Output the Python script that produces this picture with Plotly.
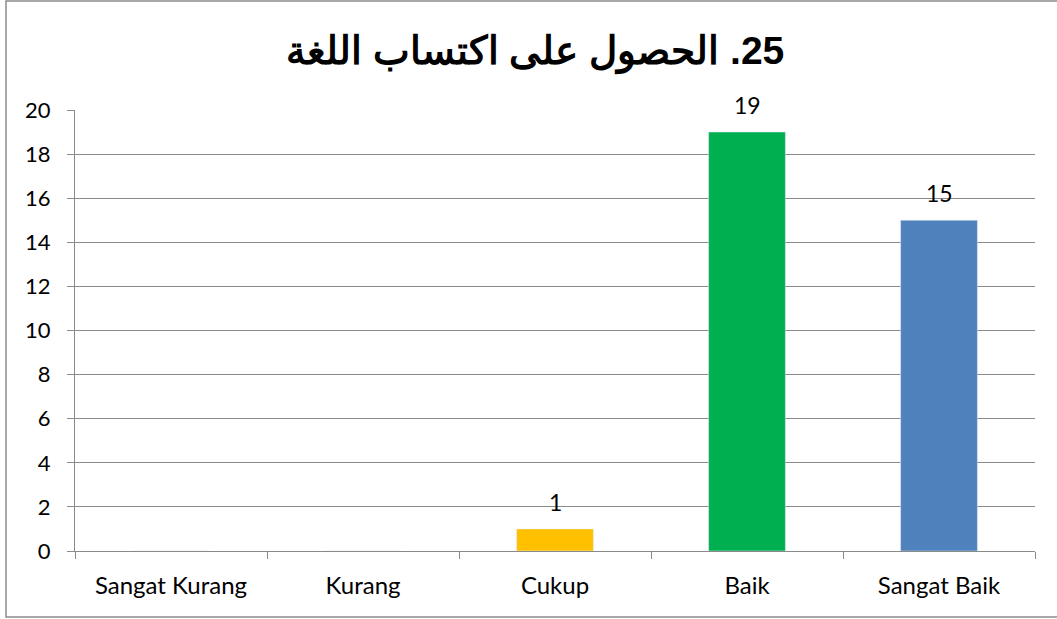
import plotly.graph_objects as go

categories = ["Sangat Kurang", "Kurang", "Cukup", "Baik", "Sangat Baik"]
values = [0, 0, 1, 19, 15]
bar_colors = ["#4F81BD", "#4F81BD", "#FFC000", "#00B050", "#4F81BD"]
labels = ["", "", "1", "19", "15"]
title_text = "25. الحصول على اكتساب اللغة"

W, H = 1057, 619
ml, mr, mt, mb = 75, 22, 110, 68
FONT = "Lato, Open Sans, sans-serif"

fig = go.Figure(go.Bar(
    x=categories, y=values, marker_color=bar_colors, width=0.40,
    hoverinfo="skip",
))

for c, v, t in zip(categories, values, labels):
    if t:
        fig.add_annotation(x=c, y=v, text=t, showarrow=False, yanchor="bottom",
                           yshift=11, font=dict(family=FONT, size=23, color="black"))

pw, ph = W - ml - mr, H - mt - mb
def px2x(p): return (p - ml) / pw
def py2y(p): return (H - mb - p) / ph

fig.add_shape(type="rect", xref="paper", yref="paper",
              x0=px2x(6), x1=px2x(1100), y0=py2y(617), y1=py2y(1),
              line=dict(color="#8c8c8c", width=1.5), fillcolor="rgba(0,0,0,0)", layer="below")

fig.update_layout(
    width=W, height=H,
    margin=dict(l=ml, r=mr, t=mt, b=mb),
    paper_bgcolor="white", plot_bgcolor="white",
    title=dict(text="<b>\u202B" + title_text + "\u202C</b>", x=535 / W, xanchor="center",
               xref="container", y=1 - 50 / H, yanchor="middle",
               font=dict(family="Liberation Sans, Arial, sans-serif", size=39, color="black")),
    showlegend=False,
    font=dict(family=FONT, size=23, color="black"),
)
fig.update_yaxes(range=[0, 20], dtick=2, showgrid=True, gridcolor="#8a8a8a", gridwidth=1,
                 showline=True, linecolor="#8a8a8a", linewidth=1,
                 ticks="outside", ticklen=7, tickcolor="#8a8a8a", zeroline=False,
                 ticklabelstandoff=12, tickfont=dict(family=FONT, size=22))
fig.update_xaxes(showline=True, linecolor="#8a8a8a", linewidth=1,
                 ticks="outside", ticklen=7, tickcolor="#8a8a8a",
                 tickson="boundaries", ticklabelstandoff=13,
                 tickfont=dict(family=FONT, size=24))

fig.write_html("out.html", config={"displayModeBar": False},
               post_script="document.body.style.margin='0';document.body.style.overflow='hidden';")
